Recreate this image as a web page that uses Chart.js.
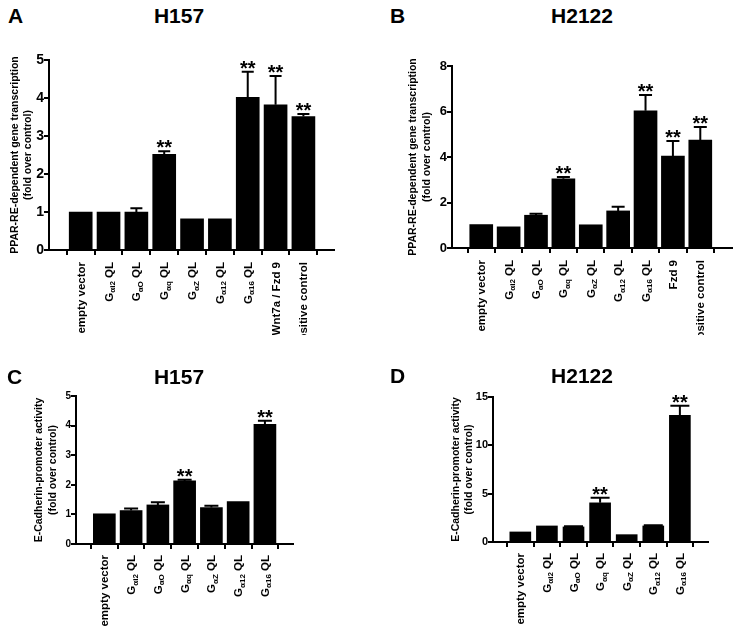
<!DOCTYPE html>
<html>
<head>
<meta charset="utf-8">
<script src="https://cdn.jsdelivr.net/npm/chart.js@4.4.0/dist/chart.umd.min.js"></script>
<style>
  body { margin: 0; background: #fff; }
  #fig { position: relative; width: 735px; height: 629px; overflow: hidden; font-family: 'Liberation Sans', Arial, sans-serif; }
  canvas { position: absolute; }
  .lbl, .ttl { position: absolute; font-weight: bold; font-size: 21px; line-height: 21px; white-space: nowrap; }
  .ttl { transform: translateX(-50%); }
</style>
</head>
<body>
<div id="fig">
  <canvas id="cA" width="367" height="305" style="left:0;top:30px"></canvas>
  <canvas id="cB" width="368" height="305" style="left:367px;top:30px"></canvas>
  <canvas id="cC" width="367" height="289" style="left:0;top:340px"></canvas>
  <canvas id="cD" width="368" height="289" style="left:367px;top:340px"></canvas>
  <div class="lbl" style="left:8px;top:5px">A</div>
  <div class="ttl" style="left:179px;top:5px">H157</div>
  <div class="lbl" style="left:390px;top:5px">B</div>
  <div class="ttl" style="left:582px;top:5px">H2122</div>
  <div class="lbl" style="left:7px;top:366px">C</div>
  <div class="ttl" style="left:179px;top:366px">H157</div>
  <div class="lbl" style="left:390px;top:365px">D</div>
  <div class="ttl" style="left:582px;top:365px">H2122</div>
</div>
<script>
// category names; {..} marks a subscript
const gLabels = ['empty vector', 'G{αi2} QL', 'G{αO} QL', 'G{αq} QL', 'G{αZ} QL', 'G{α12} QL', 'G{α16} QL'];
const labelsA = gLabels.concat(['Wnt7a / Fzd 9', 'positive control']);
const labelsB = gLabels.concat(['Fzd 9', 'positive control']);
const labelsC = gLabels;
const labelsD = gLabels;

// A: PPAR-RE reporter, H157
const valuesA = [1.0, 1.0, 1.0, 2.52, 0.82, 0.82, 4.02, 3.82, 3.51];
const errorsA = [0, 0, 0.1, 0.08, 0, 0, 0.67, 0.76, 0.07];
const starsA  = ['', '', '', '**', '', '', '**', '**', '**'];
const ticksA  = [0, 1, 2, 3, 4, 5];

// B: PPAR-RE reporter, H2122
const valuesB = [1.03, 0.93, 1.44, 3.04, 1.02, 1.63, 6.03, 4.04, 4.74];
const errorsB = [0, 0, 0.07, 0.08, 0, 0.18, 0.69, 0.66, 0.58];
const starsB  = ['', '', '', '**', '', '', '**', '**', '**'];
const ticksB  = [0, 2, 4, 6, 8];

// C: E-cadherin promoter, H157
const valuesC = [1.02, 1.13, 1.32, 2.13, 1.23, 1.43, 4.04];
const errorsC = [0, 0.07, 0.09, 0.04, 0.06, 0, 0.12];
const starsC  = ['', '', '', '**', '', '', '**'];
const ticksC  = [0, 1, 2, 3, 4, 5];

// D: E-cadherin promoter, H2122
const valuesD = [1.04, 1.66, 1.56, 4.05, 0.76, 1.66, 13.1];
const errorsD = [0, 0, 0.07, 0.52, 0, 0.07, 1.0];
const starsD  = ['', '', '', '**', '', '', '**'];
const ticksD  = [0, 5, 10, 15];

const FONT = "'Liberation Sans', Arial, sans-serif";
Chart.defaults.font.family = FONT;
Chart.defaults.color = '#000';

function parseLabel(s) {
  return s.split(/(\{[^}]*\})/).filter(Boolean).map(t =>
    t[0] === '{' ? { t: t.slice(1, -1), sub: true } : { t: t, sub: false });
}

// error bars, significance stars and the rotated category labels
const extras = {
  id: 'extras',
  afterDatasetsDraw(chart, args, o) {
    const ctx = chart.ctx, x = chart.scales.x, y = chart.scales.y;
    ctx.save();
    ctx.strokeStyle = '#000';
    ctx.fillStyle = '#000';
    ctx.lineWidth = 2;
    o.values.forEach((v, i) => {
      const e = o.errors[i];
      const px = x.getPixelForValue(i);
      const top = y.getPixelForValue(v + e);
      if (e > 0) {
        ctx.beginPath();
        ctx.moveTo(px, y.getPixelForValue(v));
        ctx.lineTo(px, top);
        ctx.moveTo(px - o.cap / 2, top);
        ctx.lineTo(px + o.cap / 2, top);
        ctx.stroke();
      }
      if (o.stars[i]) {
        ctx.font = 'bold 20px ' + FONT;
        ctx.textAlign = 'center';
        ctx.textBaseline = 'alphabetic';
        ctx.fillText(o.stars[i], px, top + 3);
      }
    });
    ctx.textAlign = 'left';
    ctx.textBaseline = 'alphabetic';
    o.labels.forEach((lab, i) => {
      const parts = parseLabel(lab);
      let total = 0;
      parts.forEach(p => {
        ctx.font = 'bold ' + (p.sub ? 8 : 11.5) + 'px ' + FONT;
        p.w = ctx.measureText(p.t).width;
        total += p.w;
      });
      ctx.save();
      ctx.translate(x.getPixelForValue(i), chart.chartArea.bottom + o.gap);
      ctx.rotate(-Math.PI / 2);
      let cx = -total;
      parts.forEach(p => {
        ctx.font = 'bold ' + (p.sub ? 8 : 11.5) + 'px ' + FONT;
        ctx.fillText(p.t, cx, p.sub ? 6.5 : 4);
        cx += p.w;
      });
      ctx.restore();
    });
    ctx.restore();
  }
};

function panel(id, p) {
  const canvas = document.getElementById(id);
  const W = canvas.width, H = canvas.height;
  const axisLine = { drawOnChartArea: false, drawTicks: true, tickLength: 5, lineWidth: 2, color: '#000' };
  return new Chart(canvas, {
    type: 'bar',
    data: {
      datasets: [{
        data: p.values.map((v, i) => ({ x: i, y: v })),
        backgroundColor: '#000',
        barThickness: p.bar
      }]
    },
    options: {
      responsive: false,
      animation: false,
      devicePixelRatio: 1,
      layout: { padding: { top: p.area.top, right: W - p.area.right, left: 0, bottom: 0 } },
      plugins: {
        legend: { display: false },
        tooltip: { enabled: false },
        extras: { values: p.values, errors: p.errors, stars: p.stars, labels: p.labels, cap: p.cap, gap: p.gap }
      },
      scales: {
        x: {
          type: 'linear',
          min: p.xmin,
          max: p.xmax,
          afterBuildTicks: s => { s.ticks = p.labels.map((_, i) => ({ value: i })); },
          afterFit: s => { s.height = H - p.area.bottom; },
          ticks: { display: false },
          grid: axisLine,
          border: { width: 2, color: '#000' }
        },
        y: {
          min: 0,
          max: p.ticks[p.ticks.length - 1],
          afterBuildTicks: s => { s.ticks = p.ticks.map(v => ({ value: v })); },
          afterFit: s => { s.width = p.area.left; },
          ticks: { font: { size: p.tickSize, weight: 'bold' }, padding: 0, color: '#000' },
          grid: axisLine,
          border: { width: 2, color: '#000' },
          title: {
            display: true,
            text: p.title,
            color: '#000',
            font: { size: 10.5, weight: 'bold', lineHeight: p.titleLH + 'px' },
            padding: { top: p.titlePad, bottom: 0 }
          }
        }
      }
    },
    plugins: [extras]
  });
}

const pparTitle = ['PPAR-RE-dependent gene transcription', '(fold over control)'];
const ecadTitle = ['E-Cadherin-promoter activity', '(fold over control)'];

panel('cA', {
  labels: labelsA, values: valuesA, errors: errorsA, stars: starsA, ticks: ticksA, title: pparTitle,
  area: { left: 49, top: 30, right: 334, bottom: 220 }, xmin: -0.57, xmax: 8.53,
  bar: 23, cap: 12, tickSize: 14, titlePad: 8.5, titleLH: 13, gap: 12
});
panel('cB', {
  labels: labelsB, values: valuesB, errors: errorsB, stars: starsB, ticks: ticksB, title: pparTitle,
  area: { left: 85, top: 36, right: 365, bottom: 218 }, xmin: -0.5, xmax: 8.59,
  bar: 23, cap: 13, tickSize: 13, titlePad: 39, titleLH: 14, gap: 12
});
panel('cC', {
  labels: labelsC, values: valuesC, errors: errorsC, stars: starsC, ticks: ticksC, title: ecadTitle,
  area: { left: 76, top: 56, right: 293, bottom: 204 }, xmin: -0.48, xmax: 6.47,
  bar: 22, cap: 14, tickSize: 10, titlePad: 32, titleLH: 14, gap: 11
});
panel('cD', {
  labels: labelsD, values: valuesD, errors: errorsD, stars: starsD, ticks: ticksD, title: ecadTitle,
  area: { left: 126, top: 57, right: 341, bottom: 202 }, xmin: -0.45, xmax: 6.48,
  bar: 21, cap: 19, tickSize: 11, titlePad: 82.5, titleLH: 13, gap: 11
});
</script>
</body>
</html>
